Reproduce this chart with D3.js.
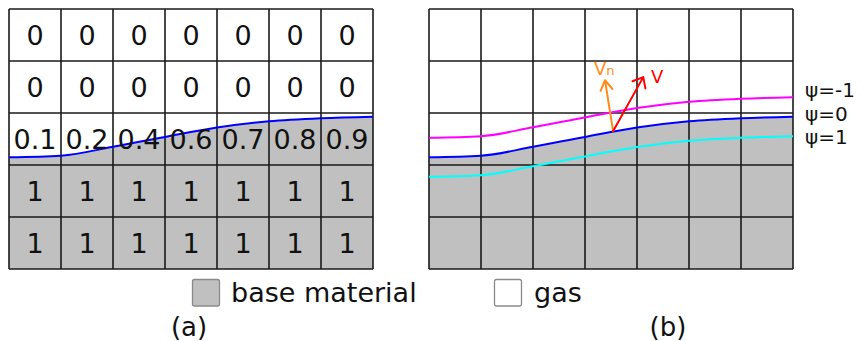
<!DOCTYPE html>
<html>
<head>
<meta charset="utf-8">
<script src="https://cdn.jsdelivr.net/npm/d3@7"></script>
<style>
  html, body { margin: 0; padding: 0; background: #fff; }
  svg { display: block; font-family: "DejaVu Sans", sans-serif; }
</style>
</head>
<body>
<svg id="chart" width="866" height="341"></svg>
<script>
// Grid size (cells)
const nCols = 7;
const nRows = 5;

// Volume fraction of base material in each cell, top row first
const fractionRows = [
  [0, 0, 0, 0, 0, 0, 0],
  [0, 0, 0, 0, 0, 0, 0],
  [0.1, 0.2, 0.4, 0.6, 0.7, 0.8, 0.9],
  [1, 1, 1, 1, 1, 1, 1],
  [1, 1, 1, 1, 1, 1, 1]
];

// Interface (psi = 0) height, in cell units from the grid bottom
const interfaceX = [0, 1, 2, 3, 4, 5, 6, 7];
const interfaceH = [2.15, 2.18, 2.35, 2.54, 2.72, 2.84, 2.90, 2.93];

// Level-set contours
const psiValues = [-1, 0, 1];
const psiColors = ["#ff00ff", "#0000ff", "#00ffff"];
const psiLabels = ["ψ=-1", "ψ=0", "ψ=1"];
const psiSpacing = 0.375; // cell units per unit of psi

// Velocity vectors at one interface point (cell units)
const arrowBase = [3.54, 2.65];
const velocity = [0.58, 1.04];
const normalVelocity = [-0.155, 0.98];

// Legend
const legendItems = ["base material", "gas"];
const legendFills = ["#c0c0c0", "#ffffff"];
const panelLabels = ["(a)", "(b)"];

const svg = d3.select("#chart");
const GRAY = "#c0c0c0";
const INK = "#111";

const yScale = d3.scaleLinear().domain([0, nRows]).range([269, 9]);
const panels = [
  d3.scaleLinear().domain([0, nCols]).range([9, 373]),
  d3.scaleLinear().domain([0, nCols]).range([429, 793])
];

const pts = interfaceX.map((x, i) => ({ x, h: interfaceH[i] }));

function drawGrid(g, x) {
  // base material region under the interface
  g.append("path")
    .datum(pts)
    .attr("fill", GRAY)
    .attr("d", d3.area().curve(d3.curveMonotoneX)
      .x(d => x(d.x)).y0(yScale(0)).y1(d => yScale(d.h)));
  const lines = g.append("g").attr("stroke", "#1a1a1a").attr("stroke-width", 1.6);
  d3.range(nCols + 1).forEach(c => lines.append("line")
    .attr("x1", x(c)).attr("x2", x(c)).attr("y1", yScale(0)).attr("y2", yScale(nRows)));
  d3.range(nRows + 1).forEach(r => lines.append("line")
    .attr("x1", x(0)).attr("x2", x(nCols)).attr("y1", yScale(r)).attr("y2", yScale(r)));
}

function contour(g, x, psi, color) {
  g.append("path")
    .datum(pts)
    .attr("fill", "none")
    .attr("stroke", color)
    .attr("stroke-width", 2)
    .attr("d", d3.line().curve(d3.curveMonotoneX)
      .x(d => x(d.x)).y(d => yScale(d.h - psi * psiSpacing)));
}

// ---- panel (a): volume fractions ----
const gA = svg.append("g");
const xA = panels[0];
drawGrid(gA, xA);
contour(gA, xA, 0, psiColors[1]);
fractionRows.forEach((row, r) => {
  row.forEach((v, c) => {
    gA.append("text")
      .attr("x", xA(c + 0.5))
      .attr("y", yScale(nRows - r - 0.5) + 10)
      .attr("text-anchor", "middle")
      .attr("font-size", 27)
      .attr("fill", INK)
      .text(v);
  });
});

// ---- panel (b): level set ----
const gB = svg.append("g");
const xB = panels[1];
drawGrid(gB, xB);
psiValues.forEach((p, i) => contour(gB, xB, p, psiColors[i]));

// contour labels, stacked to the right of the grid
psiValues.forEach((p, i) => {
  gB.append("text")
    .attr("x", 805)
    .attr("y", yScale(interfaceH[nCols]) + 4 + p * 23.5)
    .attr("font-size", 20)
    .attr("fill", INK)
    .text(psiLabels[i]);
});

function arrow(g, x, vec, color, headHalf) {
  const x0 = x(arrowBase[0]), y0 = yScale(arrowBase[1]);
  const x1 = x(arrowBase[0] + vec[0]), y1 = yScale(arrowBase[1] + vec[1]);
  const ang = Math.atan2(y0 - y1, x0 - x1);
  const L = 11.5;
  const a1 = ang + headHalf, a2 = ang - headHalf;
  g.append("path")
    .attr("fill", "none")
    .attr("stroke", color)
    .attr("stroke-width", 2)
    .attr("stroke-linecap", "round")
    .attr("stroke-linejoin", "round")
    .attr("d", `M${x0},${y0}L${x1},${y1}` +
      `M${x1 + L * Math.cos(a1)},${y1 + L * Math.sin(a1)}L${x1},${y1}` +
      `L${x1 + L * Math.cos(a2)},${y1 + L * Math.sin(a2)}`);
}
arrow(gB, xB, normalVelocity, "#ff8c1a", 0.55);
arrow(gB, xB, velocity, "#ff0000", 0.7);

const vn = gB.append("text").attr("x", 594).attr("y", 75).attr("font-size", 18).attr("fill", "#ff8c1a");
vn.append("tspan").text("V");
vn.append("tspan").attr("font-size", 13).text("n");
gB.append("text").attr("x", 651).attr("y", 83).attr("font-size", 18).attr("fill", "#ff0000").text("V");

// ---- legend ----
const legendX = [192, 494];
const legendTextX = [231, 534];
legendItems.forEach((t, i) => {
  svg.append("rect")
    .attr("x", legendX[i] + 0.5).attr("y", 279.5)
    .attr("width", 27).attr("height", 26.5)
    .attr("rx", 2)
    .attr("fill", legendFills[i])
    .attr("stroke", "#8a8a8a").attr("stroke-width", 1.3);
  svg.append("text")
    .attr("x", legendTextX[i]).attr("y", 302)
    .attr("font-size", 27)
    .attr("fill", INK)
    .text(t);
});

// ---- panel captions ----
const captionX = [189, 668];
panelLabels.forEach((t, i) => {
  svg.append("text")
    .attr("x", captionX[i]).attr("y", 336)
    .attr("text-anchor", "middle")
    .attr("font-size", 26)
    .attr("fill", INK)
    .text(t);
});
</script>
</body>
</html>
